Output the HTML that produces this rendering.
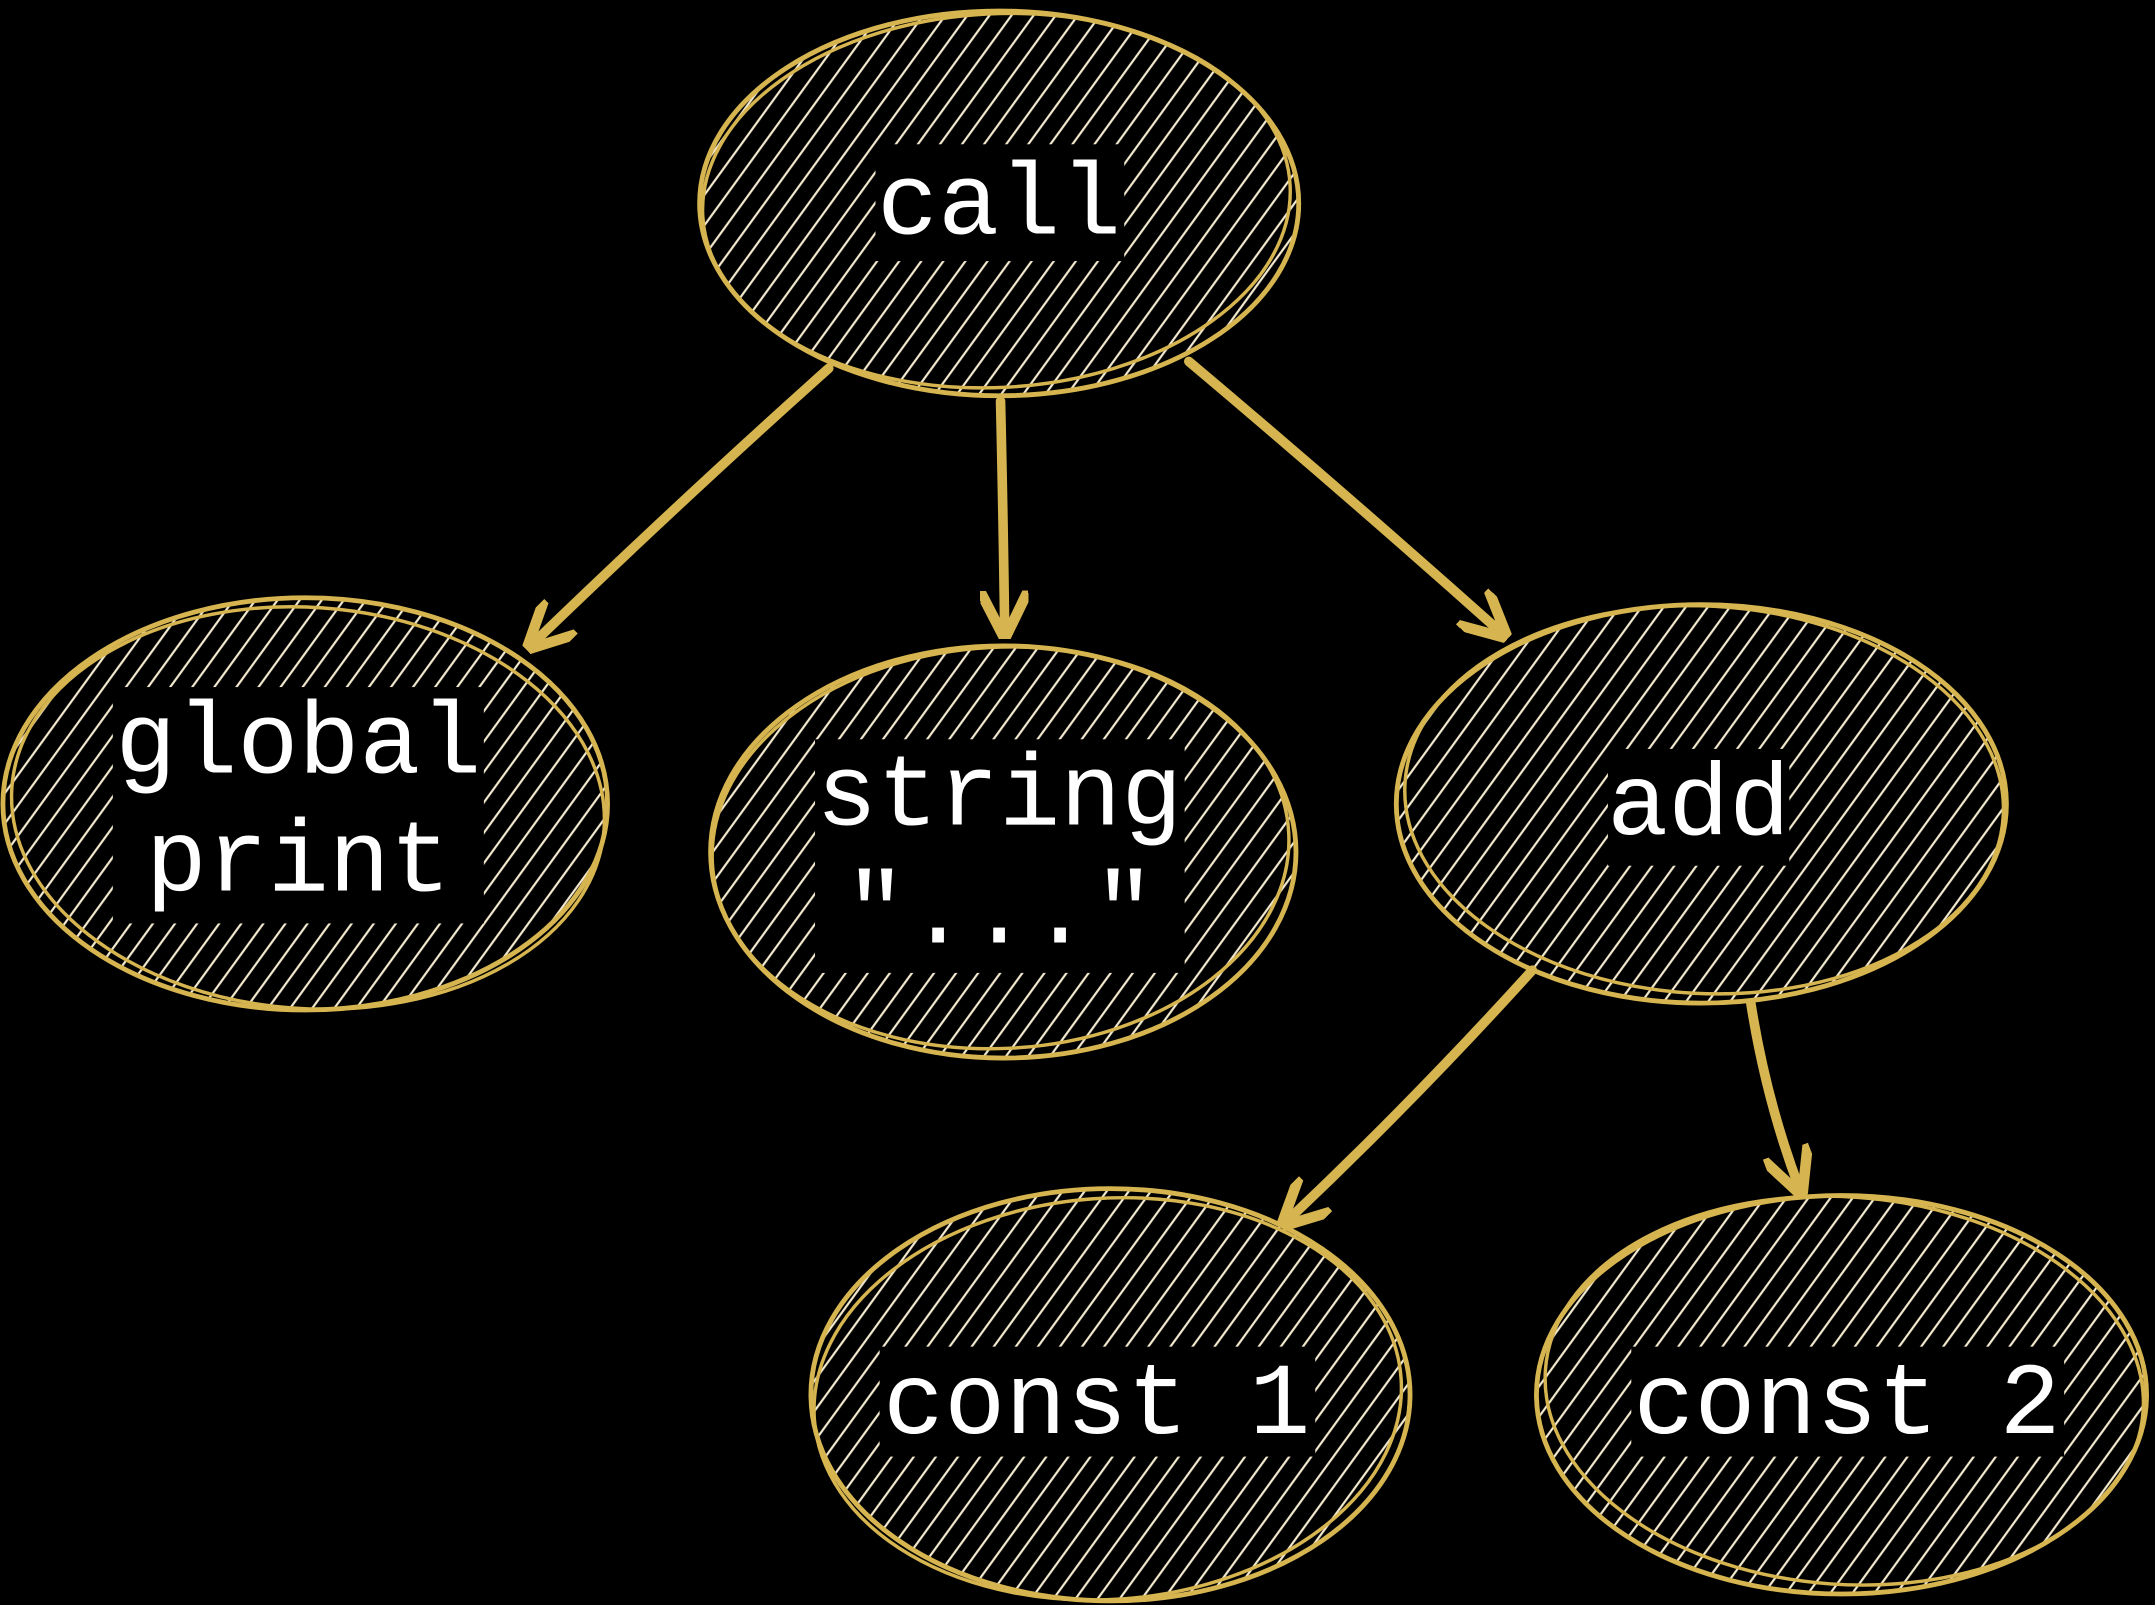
<!DOCTYPE html>
<html><head><meta charset="utf-8"><style>
html,body{margin:0;padding:0;background:#000;width:2155px;height:1605px;overflow:hidden}
svg{display:block}
text{font-family:"Liberation Mono","DejaVu Sans Mono",monospace;fill:#fff;font-size:74px}
</style></head><body>
<svg width="2155" height="1605" viewBox="0 0 1568 1168" xmlns="http://www.w3.org/2000/svg">
<defs>
<pattern id="h" width="13" height="13" patternUnits="userSpaceOnUse" patternTransform="rotate(36)">
<line x1="4" y1="0" x2="4" y2="13" stroke="#f3ead0" stroke-width="1.6"/>
</pattern>
<marker id="a" viewBox="0 0 10 10" refX="8" refY="5" markerWidth="5" markerHeight="5" orient="auto">
<path d="M0,0 L10,5 L0,10" fill="none" stroke="#d6b550" stroke-width="2.2"/>
</marker>
</defs>
<g stroke="#d6b550" stroke-width="3.5" fill="url(#h)">
<ellipse cx="727" cy="148" rx="218" ry="140"/>
<ellipse cx="222" cy="585" rx="220" ry="150"/>
<ellipse cx="730" cy="620" rx="213" ry="150"/>
<ellipse cx="1238" cy="585" rx="222" ry="145"/>
<ellipse cx="808" cy="1015" rx="218" ry="150"/>
<ellipse cx="1340" cy="1015" rx="222" ry="145"/>
</g>
<g stroke="#d6b550" stroke-width="2.5" fill="none">
<ellipse cx="725" cy="146" rx="214" ry="136" transform="rotate(-3 725 146)"/>
<ellipse cx="224" cy="588" rx="216" ry="146" transform="rotate(4 224 588)"/>
<ellipse cx="728" cy="617" rx="210" ry="146" transform="rotate(-3 728 617)"/>
<ellipse cx="1240" cy="582" rx="218" ry="141" transform="rotate(3 1240 582)"/>
<ellipse cx="806" cy="1018" rx="214" ry="146" transform="rotate(-4 806 1018)"/>
<ellipse cx="1342" cy="1012" rx="218" ry="141" transform="rotate(4 1342 1012)"/>
</g>
<g stroke="#d6b550" stroke-width="7" fill="none" stroke-linecap="round" marker-end="url(#a)">
<path d="M603,268 Q500,360 388,468"/>
<path d="M728,292 Q730,380 731,458"/>
<path d="M865,263 Q980,360 1092,460"/>
<path d="M1115,706 Q1030,800 937,888"/>
<path d="M1274,730 Q1285,800 1309,864"/>
</g>
<g fill="#000">
<rect x="637" y="105" width="181" height="85"/>
<rect x="82" y="500" width="270" height="172"/>
<rect x="593" y="538" width="269" height="170"/>
<rect x="1170" y="545" width="132" height="85"/>
<rect x="640" y="980" width="317" height="80"/>
<rect x="1187" y="980" width="315" height="80"/>
</g>
<text x="727" y="170" text-anchor="middle">call</text>
<text x="217" y="562" text-anchor="middle">global</text>
<text x="217" y="648" text-anchor="middle">print</text>
<text x="727" y="600" text-anchor="middle">string</text>
<text x="637" y="686" text-anchor="middle">"</text>
<text x="727" y="686" text-anchor="middle">...</text>
<text x="818" y="686" text-anchor="middle">"</text>
<text x="1236" y="607" text-anchor="middle">add</text>
<text x="798" y="1043" text-anchor="middle">const 1</text>
<text x="1344" y="1043" text-anchor="middle">const 2</text>
</svg>
</body></html>
